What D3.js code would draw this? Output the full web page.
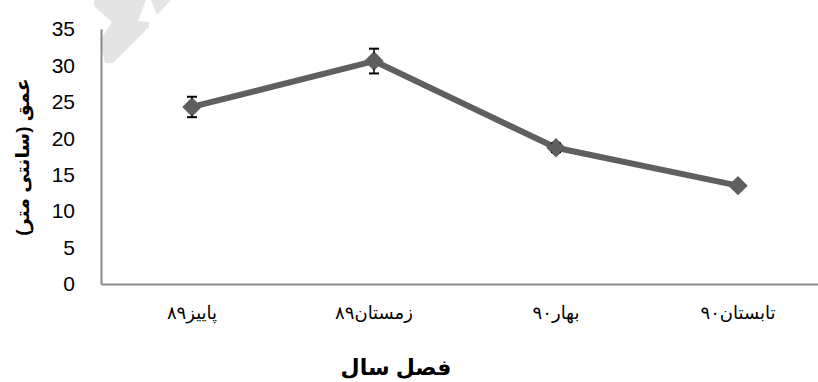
<!DOCTYPE html>
<html>
<head>
  <meta charset="utf-8">
  <title>Depth by season</title>
  <script src="https://d3js.org/d3.v7.min.js"></script>
  <style>
    body { margin: 0; background: #fff; }
    svg text { font-family: Arial, "Liberation Sans", "DejaVu Sans", sans-serif; }
  </style>
</head>
<body>
  <div id="chart"></div>
  <script>
    // data
    const seasons = ["پاییز۸۹", "زمستان۸۹", "بهار۹۰", "تابستان۹۰"];
    const depth = [24.3, 30.6, 18.7, 13.5];
    const depthErr = [1.4, 1.7, 0.6, 0.4];
    const yTicks = [0, 5, 10, 15, 20, 25, 30, 35];

    const width = 818;
    const height = 382;

    const svg = d3.select("#chart")
      .append("svg")
      .attr("width", width)
      .attr("height", height);

    // faint watermark in the top left corner
    svg.append("polygon")
      .attr("points", "94,0 146,0 138,21 149,22 149,27 113,63 105,63 100,40 112,22 94,6")
      .attr("fill", "#e4e4e4");
    svg.append("polygon")
      .attr("points", "151,0 171,0 157,15")
      .attr("fill", "#e4e4e4");

    const xScale = d3.scaleBand()
      .domain(seasons)
      .range([101, 829]);

    const yScale = d3.scaleLinear()
      .domain([0, 35])
      .range([284, 29]);

    // y axis: line + labels, no ticks
    const yAxis = d3.axisLeft(yScale)
      .tickValues(yTicks)
      .tickSize(0)
      .tickPadding(26)
      .tickFormat(d3.format("d"));

    const yAxisGroup = svg.append("g")
      .attr("transform", "translate(101,0)")
      .call(yAxis);
    yAxisGroup.select(".domain")
      .attr("stroke", "#888")
      .attr("stroke-width", 2);
    yAxisGroup.selectAll("text")
      .attr("font-size", 21)
      .attr("fill", "#000");

    // x axis
    const xAxis = d3.axisBottom(xScale)
      .tickSize(0)
      .tickPadding(22);

    const xAxisGroup = svg.append("g")
      .attr("transform", "translate(0,284)")
      .call(xAxis);
    xAxisGroup.select(".domain")
      .attr("stroke", "#888")
      .attr("stroke-width", 2);
    xAxisGroup.selectAll("text")
      .attr("font-size", 18)
      .attr("fill", "#000");

    const cx = (d, i) => xScale(seasons[i]) + xScale.bandwidth() / 2;

    // the line
    const line = d3.line()
      .x((d, i) => cx(d, i))
      .y(d => yScale(d));

    svg.append("path")
      .datum(depth)
      .attr("d", line)
      .attr("fill", "none")
      .attr("stroke", "#5f5f5f")
      .attr("stroke-width", 6)
      .attr("stroke-linejoin", "round");

    // diamond markers
    depth.forEach((d, i) => {
      svg.append("path")
        .attr("d", d3.symbol(d3.symbolDiamond2, 240)())
        .attr("transform", `translate(${cx(d, i)},${yScale(d)})`)
        .attr("fill", "#5f5f5f");
    });

    // error bars
    depth.forEach((d, i) => {
      const x = cx(d, i);
      const y1 = yScale(d + depthErr[i]);
      const y2 = yScale(d - depthErr[i]);
      svg.append("line")
        .attr("x1", x).attr("x2", x)
        .attr("y1", y1).attr("y2", y2)
        .attr("stroke", "#000")
        .attr("stroke-width", 1.5);
      [y1, y2].forEach(y => {
        svg.append("line")
          .attr("x1", x - 5).attr("x2", x + 5)
          .attr("y1", y).attr("y2", y)
          .attr("stroke", "#000")
          .attr("stroke-width", 2);
      });
    });

    // redraw markers over the error bar stems, like the original
    depth.forEach((d, i) => {
      svg.append("path")
        .attr("d", d3.symbol(d3.symbolDiamond2, 180)())
        .attr("transform", `translate(${cx(d, i)},${yScale(d)})`)
        .attr("fill", "#5f5f5f");
    });

    // axis titles
    svg.append("text")
      .attr("transform", "translate(29,157) rotate(-90)")
      .attr("text-anchor", "middle")
      .attr("font-size", 19)
      .attr("font-weight", "bold")
      .text("عمق (سانتی متر)");

    svg.append("text")
      .attr("x", 396)
      .attr("y", 375)
      .attr("text-anchor", "middle")
      .attr("font-size", 22)
      .attr("font-weight", "bold")
      .text("فصل سال");
  </script>
</body>
</html>
